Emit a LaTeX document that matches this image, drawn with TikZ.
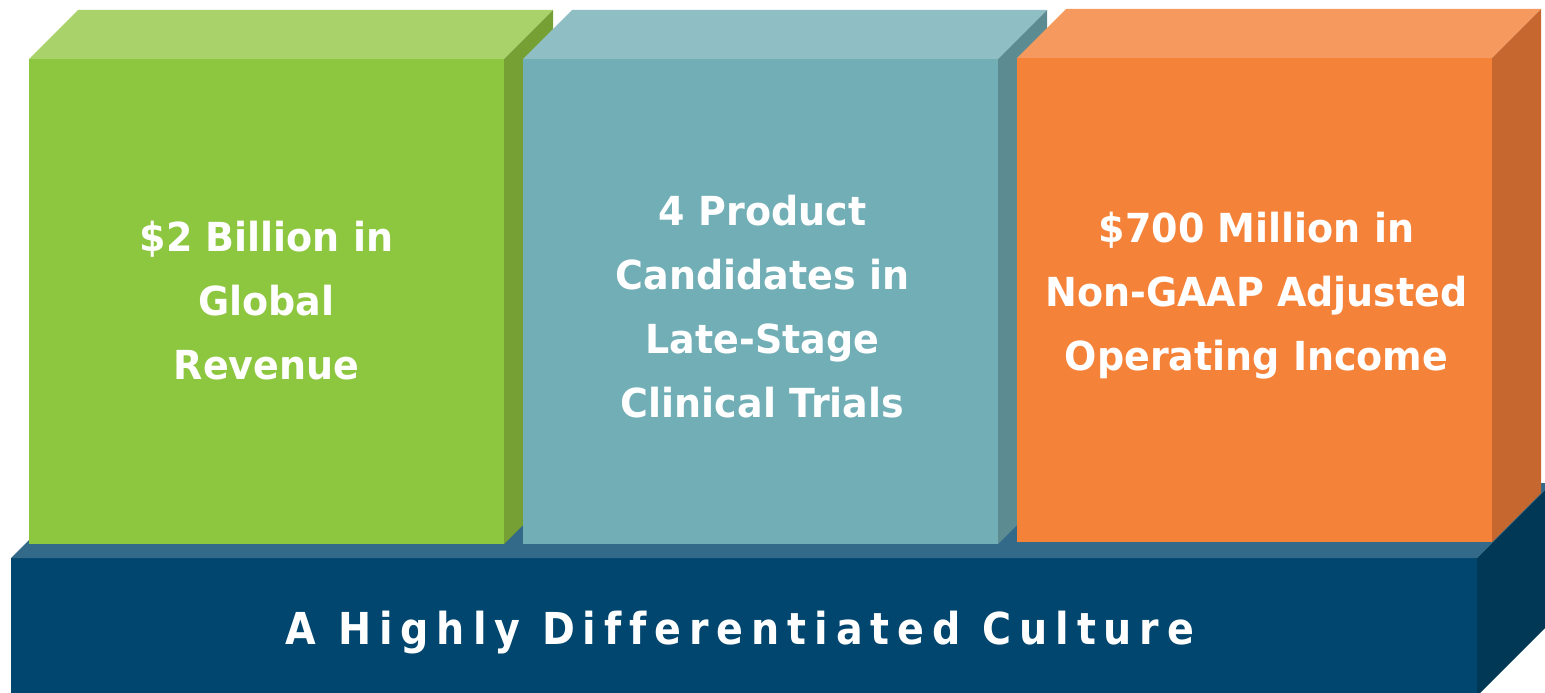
\documentclass[tikz,border=0pt]{standalone}
\usepackage{fontspec}
\setmainfont{DejaVu Sans}[FakeStretch=0.95]
\newfontfamily\spacedfont{DejaVu Sans}[FakeStretch=0.9,LetterSpace=18,Ligatures=NoCommon]
\usetikzlibrary{calc}

% face colours: front, top, side
\definecolor{gfront}{HTML}{8DC63F}
\definecolor{gtop}{HTML}{A9D26A}
\definecolor{gside}{HTML}{76A034}
\definecolor{tfront}{HTML}{72AEB6}
\definecolor{ttop}{HTML}{8FBFC4}
\definecolor{tside}{HTML}{5C8C91}
\definecolor{ofront}{HTML}{F58239}
\definecolor{otop}{HTML}{F6995F}
\definecolor{oside}{HTML}{C5672E}
\definecolor{bfront}{HTML}{00466E}
\definecolor{btop}{HTML}{336A8A}
\definecolor{bside}{HTML}{003855}

\tikzset{
  frontface/.style={anchor=north west, inner sep=0pt, outer sep=0pt,
    minimum width=475, minimum height=485, draw=none},
  boxtext/.style={text=white, align=center,
    font=\bfseries\fontsize{40}{64}\selectfont},
  basetext/.style={text=white, font=\spacedfont\bfseries\fontsize{44}{50}\selectfont}
}

\begin{document}
\begin{tikzpicture}[x=1pt,y=-1pt]
\useasboundingbox (0,0) rectangle (1545,693);
\clip (0,0) rectangle (1545,693);

% base slab
\node[frontface, fill=bfront, minimum width=1466, minimum height=138] (base) at (11,558) {};
\fill[btop] (base.north west) -- ++(75,-75) -- ($(base.north east)+(75,-75)$) -- (base.north east) -- cycle;
\fill[bside] (base.north east) -- ++(75,-75) -- ($(base.south east)+(75,-75)$) -- (base.south east) -- cycle;
\node[basetext] (culture) at ($(base.north)+(-4,75)$) {A Highly Differentiated Culture};

% green block
\node[frontface, fill=gfront] (g) at (29,59) {};
\fill[gtop] (g.north west) -- ++(49,-49) -- ($(g.north east)+(49,-49)$) -- (g.north east) -- cycle;
\fill[gside] (g.north east) -- ++(49,-49) -- ($(g.south east)+(49,-49)$) -- (g.south east) -- cycle;
\node[boxtext] (gt) at ($(g.center)+(0,-1)$) {\$2 Billion in\\Global\\Revenue};

% teal block
\node[frontface, fill=tfront] (t) at (523,59) {};
\fill[ttop] (t.north west) -- ++(49,-49) -- ($(t.north east)+(49,-49)$) -- (t.north east) -- cycle;
\fill[tside] (t.north east) -- ++(49,-49) -- ($(t.south east)+(49,-49)$) -- (t.south east) -- cycle;
\node[boxtext] (tt) at ($(t.center)+(2,5)$) {4 Product\\Candidates in\\Late-Stage\\Clinical Trials};

% orange block
\node[frontface, fill=ofront, minimum height=484] (o) at (1017,58) {};
\fill[otop] (o.north west) -- ++(49,-49) -- ($(o.north east)+(49,-49)$) -- (o.north east) -- cycle;
\fill[oside] (o.north east) -- ++(49,-49) -- ($(o.south east)+(49,-49)$) -- (o.south east) -- cycle;
\node[boxtext] (ot) at ($(o.center)+(2,-4)$) {\$700 Million in\\Non-GAAP Adjusted\\Operating Income};
\end{tikzpicture}
\end{document}
